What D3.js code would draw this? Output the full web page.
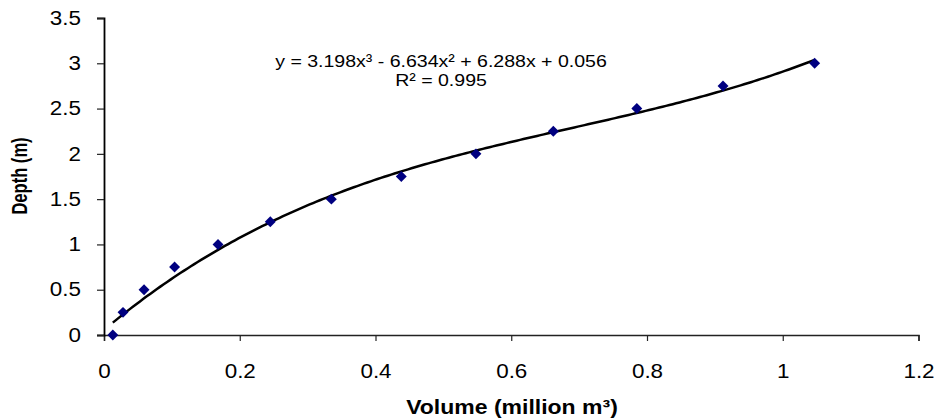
<!DOCTYPE html>
<html>
<head>
<meta charset="utf-8">
<script src="https://cdn.jsdelivr.net/npm/d3@7"></script>
<style>
  body { margin: 0; background: #fff; }
  svg { font-family: "Liberation Sans", Arial, sans-serif; }
</style>
</head>
<body>
<div id="chart"></div>
<script>
// data
let volume = [0.013, 0.028, 0.059, 0.104, 0.168, 0.245, 0.335, 0.438, 0.548, 0.662, 0.785, 0.912, 1.047]
let depth = [0, 0.25, 0.5, 0.75, 1.0, 1.25, 1.5, 1.75, 2.0, 2.25, 2.5, 2.75, 3.0]
// trendline coefficients (x^3, x^2, x, 1) as printed on the chart
let coef = [3.198, -6.634, 6.288, 0.056]
let xTicks = [0, 0.2, 0.4, 0.6, 0.8, 1, 1.2]
let yTicks = [0, 0.5, 1, 1.5, 2, 2.5, 3, 3.5]

let svgWidth = 936
let svgHeight = 420
let margin = { left: 104, right: 17.5, top: 18, bottom: 85 }
let width = svgWidth - margin.left - margin.right
let height = svgHeight - margin.top - margin.bottom

// text in the original looks a bit stretched sideways
let stretch = 'scale(1.15,1)'

let svg = d3.select('#chart')
    .append('svg')
    .attr('width', svgWidth)
    .attr('height', svgHeight)
    .append('g')
    .attr('transform', `translate(${margin.left},${margin.top})`)

let xScale = d3.scaleLinear().domain([0, 1.2]).range([0, width])
let yScale = d3.scaleLinear().domain([0, 3.5]).range([height, 0])

// axes
let xAxis = d3.axisBottom(xScale).tickValues(xTicks).tickSize(6)
    .tickFormat(d => d3.format('')(d))
let yAxis = d3.axisLeft(yScale).tickValues(yTicks).tickSize(7)
    .tickFormat(d => d3.format('')(d))

svg.append('g')
    .attr('transform', `translate(0,${height})`)
    .call(xAxis)
    .call(g => g.select('.domain').attr('stroke', '#222').attr('stroke-width', 1.5))
    .call(g => g.selectAll('.tick line').attr('stroke', '#222').attr('stroke-width', 1.2))
    .call(g => g.selectAll('text')
        .attr('y', 0).attr('dy', 0)
        .attr('transform', 'translate(0,43) ' + stretch)
        .attr('font-size', 19.5).attr('fill', '#000').attr('font-family', 'Liberation Sans, Arial'))

svg.append('g')
    .call(yAxis)
    .call(g => g.select('.domain').attr('stroke', '#000').attr('stroke-width', 1.8))
    .call(g => g.selectAll('.tick line').attr('stroke', '#222').attr('stroke-width', 1.2))
    .call(g => g.selectAll('text')
        .attr('x', 0)
        .attr('transform', 'translate(-23,0) ' + stretch)
        .attr('font-size', 19.5).attr('fill', '#000').attr('font-family', 'Liberation Sans, Arial'))

// polynomial trendline over the data range
let poly = x => coef[0] * x * x * x + coef[1] * x * x + coef[2] * x + coef[3]
let xs = d3.range(volume[0], volume[volume.length - 1], 0.005).concat([volume[volume.length - 1]])
let line = d3.line()
    .x(d => xScale(d))
    .y(d => yScale(poly(d)))

svg.append('path')
    .attr('d', line(xs))
    .attr('fill', 'none')
    .attr('stroke', '#000')
    .attr('stroke-width', 2.5)

// markers
let diamond = d3.symbol().type(d3.symbolDiamond2).size(76)
svg.selectAll('.pt')
    .data(volume.map((v, i) => ({ v, d: depth[i] })))
    .join('path')
    .attr('class', 'pt')
    .attr('d', diamond)
    .attr('transform', d => `translate(${xScale(d.v)},${yScale(d.d)})`)
    .attr('fill', '#000080')

// equation label
svg.append('text')
    .attr('transform', `translate(${441 - margin.left},${67 - margin.top}) ` + stretch)
    .attr('text-anchor', 'middle')
    .attr('font-size', 17)
    .text('y = 3.198x³ - 6.634x² + 6.288x  + 0.056')
svg.append('text')
    .attr('transform', `translate(${441 - margin.left},${86 - margin.top}) ` + stretch)
    .attr('text-anchor', 'middle')
    .attr('font-size', 17)
    .text('R² = 0.995')

// axis titles
svg.append('text')
    .attr('transform', `translate(${512 - margin.left},${414 - margin.top}) ` + stretch)
    .attr('text-anchor', 'middle')
    .attr('font-size', 20)
    .attr('font-weight', 'bold')
    .text('Volume (million  m³)')

svg.append('text')
    .attr('transform', `translate(${27 - margin.left},${176 - margin.top}) rotate(-90) scale(0.92,1.18)`)
    .attr('text-anchor', 'middle')
    .attr('font-size', 18)
    .attr('font-weight', 'bold')
    .text('Depth (m)')
</script>
</body>
</html>
